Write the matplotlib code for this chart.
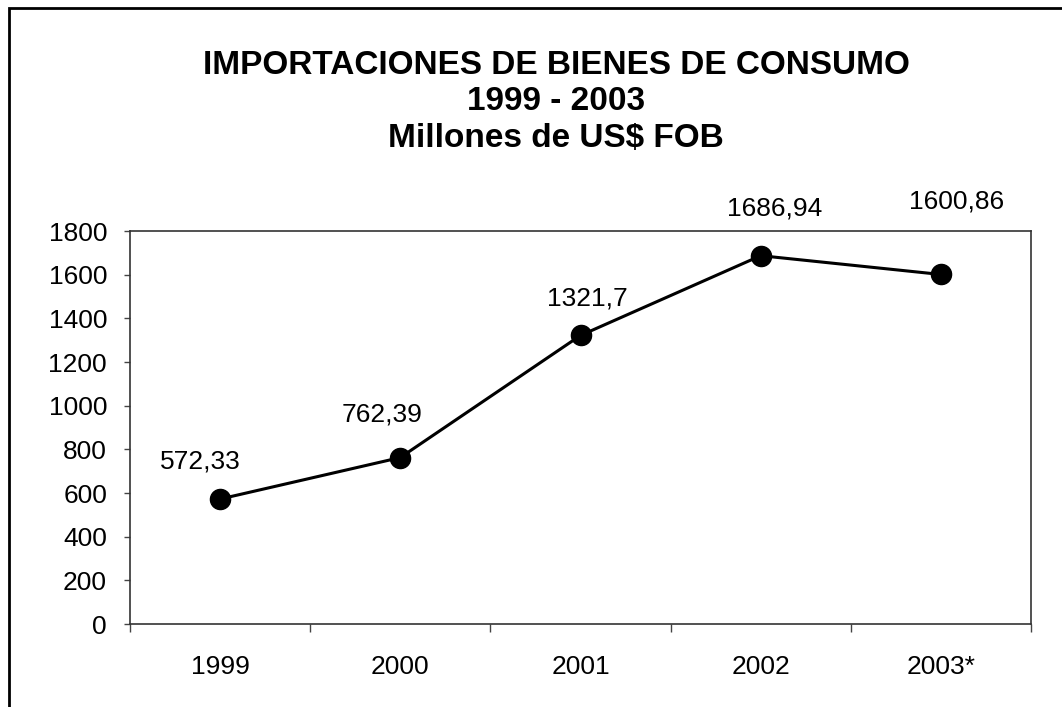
import matplotlib.pyplot as plt
from matplotlib.patches import Rectangle

plt.rcParams['font.family'] = ['Liberation Sans', 'DejaVu Sans']

years = ['1999', '2000', '2001', '2002', '2003*']
values = [572.33, 762.39, 1321.7, 1686.94, 1600.86]
value_labels = ['572,33', '762,39', '1321,7', '1686,94', '1600,86']
y_ticks = [0, 200, 400, 600, 800, 1000, 1200, 1400, 1600, 1800]

# label centre offsets in pixels (dx, dy) from each point
label_offsets = [(-20, 38), (-18, 43), (7, 37), (14, 47), (16, 73)]

fig = plt.figure(figsize=(10.62, 7.07), dpi=100)
ax = fig.add_axes([130 / 1062, 1 - 624 / 707, 901 / 1062, 393 / 707])

x = list(range(len(years)))
ax.plot(x, values, color='black', linewidth=2.2, marker='o', markersize=14.5,
        markerfacecolor='black', markeredgecolor='black')

for xi, v, lab, off in zip(x, values, value_labels, label_offsets):
    ax.annotate(lab, (xi, v), xytext=off, textcoords='offset pixels',
                ha='center', va='center', fontsize=19)

ax.set_xlim(-0.5, len(years) - 0.5)
ax.set_ylim(0, 1800)
ax.set_yticks(y_ticks)
ax.set_yticklabels([str(t) for t in y_ticks])

# ticks between categories, labels centred on categories
ax.set_xticks([i - 0.5 for i in range(len(years) + 1)])
ax.set_xticklabels([])
ax.set_xticks(x, minor=True)
ax.set_xticklabels(years, minor=True)
ax.tick_params(axis='x', which='major', direction='out', length=6, width=1, color='#444444')
ax.tick_params(axis='x', which='minor', length=0, pad=22, labelsize=19)
ax.tick_params(axis='y', direction='out', length=4.5, width=1, color='#444444', pad=12, labelsize=19)

for s in ax.spines.values():
    s.set_color('#333333')
    s.set_linewidth(1.2)

fig.text(556 / 1062, 1 - 65 / 707, 'IMPORTACIONES DE BIENES DE CONSUMO',
         ha='center', va='center', fontsize=24, fontweight='bold')
fig.text(556 / 1062, 1 - 102 / 707, '1999 - 2003',
         ha='center', va='center', fontsize=24, fontweight='bold')
fig.text(556 / 1062, 1 - 138 / 707, 'Millones de US$ FOB',
         ha='center', va='center', fontsize=24, fontweight='bold')

# outer chart frame (cut off at bottom and right)
fig.add_artist(Rectangle((9 / 1062, -0.1), 1.2, 1 - 8 / 707 + 0.1,
                         transform=fig.transFigure, fill=False,
                         edgecolor='black', linewidth=2))

fig.savefig('out.png', dpi=100)
